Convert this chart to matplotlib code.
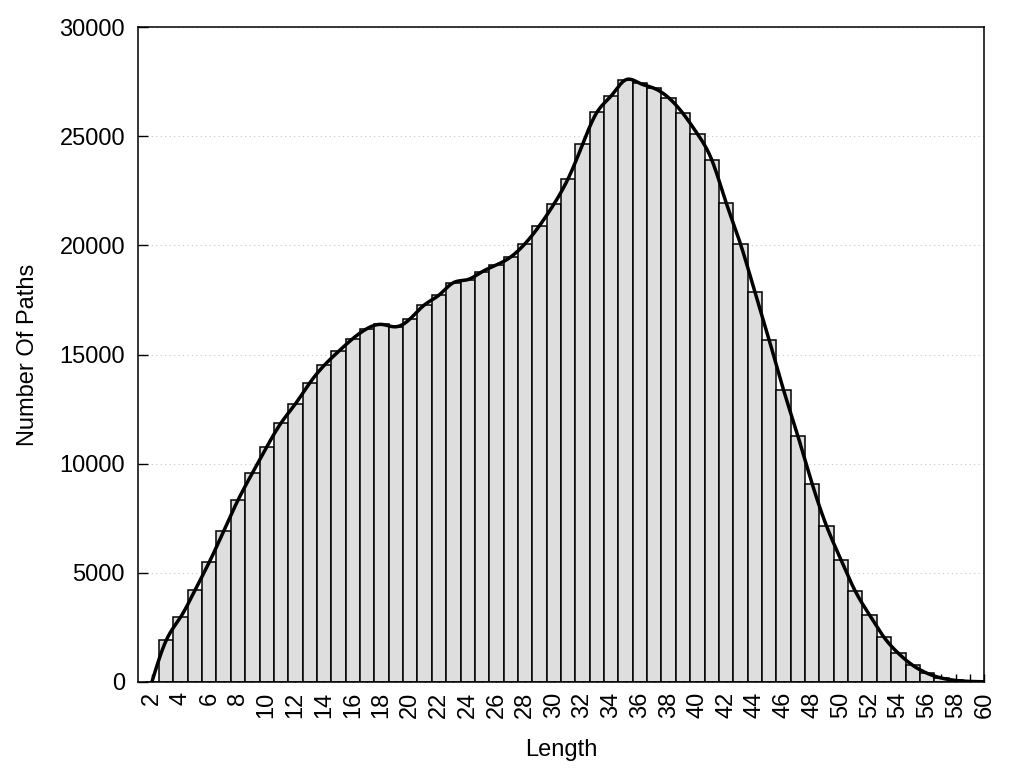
import numpy as np
import matplotlib
matplotlib.use('Agg')
import matplotlib.pyplot as plt

plt.rcParams['font.family'] = ['Liberation Sans', 'DejaVu Sans']

lengths = list(range(2, 61))
paths = [0, 1910, 2970, 4200, 5490, 6910, 8330, 9570, 10765, 11865,
         12740, 13700, 14500, 15140, 15730, 16190, 16380, 16270, 16640, 17280,
         17720, 18290, 18430, 18790, 19100, 19470, 20080, 20900, 21880, 23060,
         24620, 26090, 26850, 27580, 27420, 27190, 26760, 26040, 25110, 23920,
         21960, 20070, 17880, 15670, 13380, 11270, 9070, 7140, 5600, 4160,
         3060, 2050, 1315, 765, 400, 180, 70, 25, 10]

yticks = [0, 5000, 10000, 15000, 20000, 25000, 30000]


def natural_spline(x, y, xs):
    x = np.asarray(x, float)
    y = np.asarray(y, float)
    n = len(x)
    h = np.diff(x)
    A = np.zeros((n, n))
    b = np.zeros(n)
    A[0, 0] = A[-1, -1] = 1
    for i in range(1, n - 1):
        A[i, i - 1] = h[i - 1]
        A[i, i] = 2 * (h[i - 1] + h[i])
        A[i, i + 1] = h[i]
        b[i] = 3 * ((y[i + 1] - y[i]) / h[i] - (y[i] - y[i - 1]) / h[i - 1])
    c = np.linalg.solve(A, b)
    bb = (y[1:] - y[:-1]) / h - h * (2 * c[:-1] + c[1:]) / 3
    d = (c[1:] - c[:-1]) / (3 * h)
    idx = np.clip(np.searchsorted(x, xs) - 1, 0, n - 2)
    t = xs - x[idx]
    return y[idx] + bb[idx] * t + c[idx] * t ** 2 + d[idx] * t ** 3


fig = plt.figure(figsize=(10.24, 7.68), dpi=100)
ax = fig.add_axes([0.1343, 0.112, 0.8271, 0.8528])

ax.yaxis.grid(True, color='#c8c8c8', linestyle=(0, (1, 3)), linewidth=0.8)
ax.set_axisbelow(True)

ax.bar(lengths, paths, width=1.0, color='#dedede', edgecolor='black', linewidth=1.1, zorder=2)

# smooth curve through the bar tops
xs = np.linspace(lengths[0], lengths[-1], 800)
ax.plot(xs, natural_spline(lengths, paths, xs), color='black', linewidth=2.5, zorder=3)

ax.set_xlim(1, 60)
ax.set_ylim(0, 30000)
ax.set_yticks(yticks)
ax.set_yticklabels([str(v) for v in yticks])
ax.set_xticks(lengths)
ax.set_xticklabels([str(v) if v % 2 == 0 else '' for v in lengths], rotation=90)

ax.tick_params(axis='y', direction='in', length=7.5, width=1, labelsize=17, pad=9)
ax.tick_params(axis='x', direction='in', length=6, width=1, labelsize=17, pad=7)
for s in ax.spines.values():
    s.set_linewidth(1.1)

ax.set_ylabel('Number Of Paths', fontsize=17, labelpad=15)
ax.set_xlabel('Length', fontsize=17, labelpad=15)

fig.savefig('out.png', dpi=100)
